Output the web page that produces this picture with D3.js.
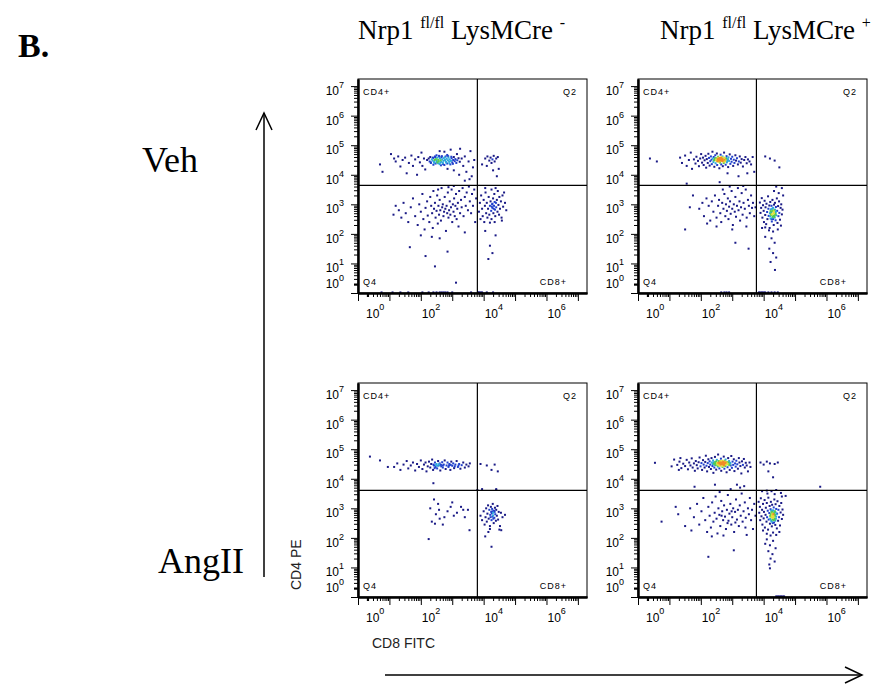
<!DOCTYPE html>
<html><head><meta charset="utf-8">
<script src="https://cdn.jsdelivr.net/npm/d3@7"></script>
<style>body{margin:0;background:#fff}svg{display:block}</style>
</head><body><svg id="c" width="882" height="698"></svg>
<script>
// ---------- data (log10 units: [CD8 FITC exponent, CD4 PE exponent]) ----------
const columnTitles = [["Nrp1 ", "fl/fl", " LysMCre ", "-"], ["Nrp1 ", "fl/fl", " LysMCre ", "+"]];
const rowLabels = ["Veh", "AngII"];
const quadrantNames = ["CD4+", "Q2", "Q4", "CD8+"];
const xAxisTitle = "CD8 FITC";
const yAxisTitle = "CD4 PE";
const xLabelExps = [0, 2, 4, 6];
const yLabelExps = [0, 1, 2, 3, 4, 5, 6, 7];
const gateX = [3.80, 3.77, 3.80, 3.77];
const gateY = [3.64, 3.64, 3.61, 3.61];

const vehCreNeg = [
[2.20,4.50],[2.25,4.55],[2.28,4.45],[2.30,4.60],[2.32,4.40],[2.35,4.52],[2.38,4.48],[2.40,4.57],[2.42,4.43],[2.44,4.50],[2.45,4.62],[2.47,4.38],[2.48,4.53],[2.50,4.47],[2.52,4.58],[2.53,4.42],[2.55,4.51],[2.57,4.46],[2.58,4.64],[2.60,4.36],[2.61,4.55],[2.63,4.49],[2.65,4.44],[2.66,4.59],[2.68,4.52],[2.70,4.40],[2.72,4.47],[2.73,4.56],[2.75,4.33],[2.77,4.50],[2.79,4.62],[2.80,4.44],[2.82,4.54],[2.84,4.38],[2.86,4.49],[2.88,4.58],[2.90,4.45],[2.92,4.52],[2.94,4.35],[2.96,4.47],[2.98,4.56],[3.00,4.42],[3.03,4.50],[3.05,4.60],[3.08,4.46],[3.10,4.53],[3.13,4.40],[3.16,4.49],[3.20,4.56],[3.24,4.44],
[2.32,4.42],[2.38,4.58],[2.43,4.40],[2.46,4.60],[2.51,4.43],[2.55,4.39],[2.59,4.61],[2.62,4.41],[2.67,4.63],[2.71,4.36],[2.76,4.59],[2.81,4.41],[2.87,4.63],[2.91,4.39],[2.97,4.61],[3.02,4.37],[2.50,4.66],[2.64,4.32],[2.84,4.67],[2.40,4.34],
[0.70,4.35],[0.78,4.10],[1.05,4.70],[1.15,4.55],[1.20,4.45],[1.28,4.62],[1.35,4.28],[1.42,4.50],[1.50,4.58],[1.55,4.05],[1.62,4.40],[1.70,4.65],[1.75,4.30],[1.82,4.52],[1.88,4.00],[1.92,4.60],[1.97,4.42],[2.02,4.75],[2.05,4.30],[2.10,4.55],[2.14,4.18],[2.60,4.80],[2.75,4.78],[2.85,4.20],[2.95,4.85],[3.05,4.15],[3.15,4.70],[3.22,4.00],[3.30,4.55],[3.35,4.30],[3.40,4.62],[3.45,4.10],[3.52,4.45],[3.58,4.80],[3.62,3.95],[3.66,4.25],[3.70,4.50],[3.55,3.85],[3.40,3.80],[3.25,4.88],
[4.05,4.55],[4.12,4.62],[4.18,4.48],[4.22,4.58],[4.28,4.52],[4.32,4.64],[4.35,4.45],[4.40,4.55],[4.45,4.60],[4.25,4.40],[4.10,4.30],[4.30,4.15],[4.48,4.20],[4.42,3.95],[3.95,4.35],
[1.13,2.65],[1.20,2.95],[1.30,2.80],[1.38,2.55],[1.45,3.05],[1.52,2.70],[1.60,2.40],[1.68,2.90],[1.75,3.20],[1.82,2.60],[1.90,2.30],[1.95,3.00],[2.00,2.75],[2.05,3.35],[2.08,2.50],[2.12,2.15],[2.15,2.88],[2.20,3.10],[2.22,2.62],[2.27,2.40],[2.30,3.25],[2.33,2.95],[2.36,2.70],[2.38,2.20],[2.40,3.45],[2.42,2.85],[2.45,3.05],[2.47,2.55],[2.50,2.78],[2.52,3.30],[2.54,2.35],[2.56,2.95],[2.58,2.65],[2.60,3.15],[2.62,2.80],[2.64,2.45],[2.66,3.55],[2.68,2.90],[2.70,3.00],[2.72,2.60],[2.74,2.75],[2.76,3.25],[2.78,2.85],[2.80,2.10],[2.82,2.95],[2.84,2.70],[2.86,3.40],[2.88,2.55],[2.90,2.80],[2.92,3.10],[2.94,2.65],[2.96,2.90],[2.98,3.50],[3.00,2.40],[3.02,3.00],[3.04,2.75],[3.06,3.20],[3.08,2.60],[3.10,2.95],[3.12,3.35],[3.14,2.50],[3.16,2.85],[3.18,3.05],[3.20,2.25],[3.22,3.45],[3.25,2.70],[3.28,3.15],[3.30,2.90],[3.33,3.55],[3.36,2.60],[3.40,3.25],[3.43,2.95],[3.46,3.40],[3.50,2.80],[3.53,3.60],[3.56,3.10],[3.60,2.70],[3.63,3.35],[3.66,2.95],[3.70,3.50],[3.73,2.40],[3.76,3.20],[2.88,3.58],[3.05,3.62],[2.55,3.50],[2.35,1.90],[2.60,1.85],
[1.65,1.55],[2.15,1.25],[2.45,0.90],[2.85,1.40],[3.12,0.35],[2.00,1.95],[3.40,2.05],
[3.85,2.75],[3.88,3.05],[3.90,2.50],[3.92,3.30],[3.95,2.85],[3.97,2.60],[4.00,3.15],[4.02,2.40],[4.04,2.95],[4.06,3.40],[4.08,2.70],[4.10,3.05],[4.12,2.55],[4.14,2.85],[4.16,3.25],[4.18,2.65],[4.20,2.95],[4.22,3.10],[4.24,2.78],[4.25,2.50],[4.27,3.00],[4.28,2.88],[4.30,3.20],[4.31,2.70],[4.33,2.95],[4.34,3.35],[4.36,2.82],[4.37,2.60],[4.39,3.05],[4.40,2.90],[4.42,3.15],[4.44,2.75],[4.45,3.45],[4.47,2.98],[4.49,2.65],[4.50,3.25],[4.52,2.85],[4.55,3.10],[4.57,2.55],[4.60,3.30],[4.62,2.92],[4.65,3.40],[4.68,3.05],[4.72,2.80],[4.58,2.45],[4.35,2.40],[4.20,2.38],[4.05,3.55],[4.38,3.55],[4.25,3.50],[4.28,3.02],[4.32,2.85],[4.26,2.92],[4.35,3.08],
[4.20,1.60],[4.28,1.35],[4.15,1.15],[4.38,1.95],[4.05,2.10],
[0.75,0.02],[1.10,0.02],[1.35,0.02],[1.60,0.02],[2.05,0.02],[2.25,0.02],[2.40,0.02],[2.50,0.02],[2.60,0.02],[2.66,0.02],[2.72,0.02],[2.78,0.02],[2.85,0.02],[3.00,0.02],[3.60,0.02],[3.82,0.02],[3.86,0.02],[3.90,0.02],[3.95,0.02],[4.10,0.02],[4.30,0.02]
];

const vehCrePos = [
[1.78,4.52],[1.83,4.38],[1.86,4.61],[1.91,4.47],[1.94,4.29],[1.98,4.55],[2.01,4.70],[2.04,4.41],[2.07,4.58],[2.09,4.33],[2.12,4.49],[2.15,4.64],[2.17,4.24],[2.19,4.53],[2.22,4.40],[2.24,4.71],[2.26,4.57],[2.28,4.31],[2.30,4.46],[2.32,4.62],[2.34,4.51],[2.35,4.36],[2.37,4.78],[2.38,4.55],[2.40,4.43],[2.41,4.60],[2.43,4.27],[2.44,4.50],[2.46,4.66],[2.47,4.39],[2.48,4.56],[2.50,4.47],[2.51,4.72],[2.52,4.33],[2.54,4.53],[2.55,4.61],[2.56,4.44],[2.58,4.50],[2.59,4.22],[2.60,4.57],[2.61,4.41],[2.63,4.68],[2.64,4.49],[2.65,4.35],[2.66,4.55],[2.68,4.46],[2.69,4.62],[2.70,4.29],[2.72,4.52],[2.73,4.40],[2.74,4.75],[2.76,4.58],[2.77,4.45],[2.79,4.34],[2.80,4.54],[2.82,4.63],[2.83,4.42],[2.85,4.50],[2.87,4.26],[2.88,4.59],[2.90,4.47],[2.92,4.69],[2.94,4.37],[2.96,4.54],[2.98,4.44],[3.00,4.61],[3.03,4.30],[3.05,4.51],[3.07,4.40],[3.10,4.66],[3.12,4.48],[3.15,4.56],[3.18,4.35],[3.21,4.45],[3.24,4.62],[3.27,4.41],[3.30,4.53],[3.34,4.28],[3.38,4.50],[3.42,4.60],[3.46,4.39],[3.50,4.52],[3.55,4.45],
[2.42,4.49],[2.45,4.55],[2.49,4.52],[2.53,4.46],[2.57,4.54],[2.59,4.48],[2.62,4.52],[2.64,4.57],[2.67,4.50],[2.70,4.48],[2.71,4.56],[2.75,4.51],[2.78,4.49],[2.81,4.57],[2.84,4.46],[2.60,4.45],[2.66,4.60],[2.55,4.58],[2.73,4.44],[2.50,4.50],[2.62,4.49],[2.68,4.53],[2.57,4.51],[2.86,4.53],
[0.38,4.55],[0.60,4.45],[1.34,4.58],[1.40,4.40],[1.50,4.65],[1.55,4.30],[1.62,4.50],[1.68,4.75],[1.72,4.20],[3.60,4.35],[3.65,4.60],[3.70,4.10],[3.48,4.05],[3.20,3.95],[2.85,4.05],[2.60,3.75],[1.55,3.70],[4.20,4.55],[4.35,4.48],[4.50,4.25],[4.05,4.62],
[1.95,2.85],[2.05,3.05],[2.10,2.60],[2.18,3.20],[2.25,2.95],[2.30,2.45],[2.35,3.10],[2.40,2.75],[2.45,3.30],[2.50,2.55],[2.55,2.95],[2.58,3.15],[2.62,2.70],[2.65,2.40],[2.68,3.05],[2.72,2.85],[2.75,3.35],[2.78,2.60],[2.80,3.00],[2.83,2.78],[2.86,3.20],[2.88,2.50],[2.90,2.92],[2.93,3.10],[2.95,2.68],[2.98,3.45],[3.00,2.85],[3.02,2.30],[3.05,3.00],[3.08,2.75],[3.10,3.25],[3.12,2.58],[3.15,2.95],[3.18,3.55],[3.20,2.80],[3.23,3.10],[3.25,2.45],[3.28,2.90],[3.30,3.38],[3.33,2.65],[3.36,3.05],[3.40,2.85],[3.43,3.50],[3.46,2.55],[3.50,3.15],[3.53,2.95],[3.56,2.70],[3.60,3.30],[3.63,2.88],[3.66,3.05],[3.70,2.60],[3.74,2.90],[2.92,3.60],[3.35,3.62],[2.70,3.50],[2.20,2.35],[2.50,2.25],[3.00,2.15],[3.45,2.25],[1.50,2.15],[1.75,3.30],[1.65,2.90],[3.10,1.70],[3.52,1.50],
[3.88,3.06],[3.90,2.71],[3.92,2.88],[3.94,3.21],[3.96,2.55],[3.98,2.97],[4.00,2.78],[4.01,2.40],[4.03,3.12],[4.05,2.64],[4.06,2.90],[4.08,2.33],[4.09,3.02],[4.11,2.74],[4.12,2.50],[4.14,3.27],[4.15,2.85],[4.16,2.61],[4.18,2.96],[4.19,2.20],[4.20,2.70],[4.21,3.08],[4.22,2.52],[4.23,2.83],[4.24,2.64],[4.25,2.95],[4.26,2.42],[4.27,2.76],[4.28,3.15],[4.29,2.58],[4.30,2.88],[4.31,2.69],[4.32,2.30],[4.33,2.99],[4.34,2.80],[4.35,2.55],[4.36,3.05],[4.37,2.73],[4.38,2.46],[4.39,2.91],[4.40,2.63],[4.42,3.20],[4.43,2.78],[4.44,2.37],[4.46,2.94],[4.47,2.60],[4.49,3.10],[4.50,2.71],[4.52,2.48],[4.54,2.88],[4.56,3.00],[4.58,2.66],[4.60,2.82],[4.62,3.30],[4.55,2.28],[4.45,2.15],[4.30,2.08],[4.17,2.12],[4.05,2.22],[4.48,3.38],[4.33,3.45],[4.58,3.55],[4.40,3.60],
[4.21,2.60],[4.24,2.74],[4.26,2.66],[4.28,2.55],[4.29,2.79],[4.31,2.61],[4.33,2.70],[4.35,2.64],[4.36,2.82],[4.38,2.68],[4.25,2.50],[4.30,2.50],[4.34,2.58],[4.27,2.85],[4.22,2.77],[4.39,2.75],[4.32,2.76],[4.23,2.68],
[4.25,1.85],[4.35,1.70],[4.18,1.50],[4.30,1.35],[4.40,1.20],[4.22,1.05],[4.36,0.78],[4.05,1.90],[3.95,2.20],
[2.65,0.02],[2.75,0.02],[2.82,0.02],[2.90,0.02],[3.85,0.02],[3.90,0.02],[3.95,0.02],[4.00,0.02],[4.05,0.02],[4.15,0.02],[4.25,0.02],[4.35,0.02],[4.45,0.02]
];

const angCreNeg = [
[1.15,4.40],[1.25,4.52],[1.35,4.30],[1.45,4.48],[1.55,4.60],[1.60,4.35],[1.68,4.45],[1.75,4.55],[1.82,4.28],[1.88,4.50],[1.94,4.40],[2.00,4.62],[2.05,4.33],[2.10,4.48],[2.15,4.55],[2.18,4.25],[2.22,4.42],[2.26,4.58],[2.30,4.38],[2.33,4.50],[2.36,4.65],[2.39,4.30],[2.42,4.45],[2.45,4.55],[2.47,4.40],[2.50,4.50],[2.52,4.35],[2.55,4.60],[2.57,4.45],[2.60,4.52],[2.62,4.28],[2.65,4.42],[2.68,4.56],[2.70,4.38],[2.73,4.48],[2.76,4.62],[2.79,4.33],[2.82,4.45],[2.85,4.55],[2.88,4.40],[2.91,4.50],[2.94,4.30],[2.97,4.58],[3.00,4.44],[3.03,4.52],[3.06,4.36],[3.10,4.48],[3.14,4.60],[3.18,4.40],[3.22,4.50],[3.26,4.34],[3.30,4.46],[3.35,4.55],[3.40,4.38],[3.45,4.48],[3.52,4.42],[3.56,4.52],[2.40,4.48],[2.48,4.46],[2.54,4.44],[2.58,4.49],[2.64,4.47],[2.44,4.36],[2.70,4.45],[2.90,4.45],[3.08,4.42],[2.95,4.47],[3.20,4.45],
[0.38,4.75],[0.70,4.62],[0.95,4.40],[2.40,3.85],[3.90,4.50],[4.10,4.45],[4.25,4.30],[4.35,4.48],[4.45,4.25],[3.95,3.65],[4.40,3.65],
[2.30,3.00],[2.42,3.30],[2.55,3.15],[2.58,2.95],[2.35,2.55],[2.45,2.48],[2.60,2.65],[2.75,2.70],[2.85,2.90],[2.95,3.05],[3.05,2.75],[3.15,2.85],[3.28,3.05],[3.35,2.95],[3.50,2.95],[3.55,2.26],[3.40,2.70],[2.70,2.45],[3.00,3.20],[2.25,1.96],[2.48,2.80],
[3.90,2.75],[3.95,2.60],[4.00,2.90],[4.03,2.45],[4.06,2.70],[4.08,3.00],[4.10,2.55],[4.12,2.82],[4.14,3.10],[4.16,2.65],[4.18,2.95],[4.20,2.40],[4.21,2.78],[4.23,3.05],[4.24,2.88],[4.25,2.60],[4.27,2.98],[4.28,2.72],[4.29,3.15],[4.30,2.85],[4.32,2.50],[4.33,2.92],[4.34,2.68],[4.36,3.02],[4.37,2.80],[4.39,2.58],[4.40,2.95],[4.42,2.75],[4.44,3.08],[4.46,2.62],[4.48,2.88],[4.52,2.40],[4.55,2.85],[4.60,2.70],[4.68,2.78],[4.50,2.28],[4.56,2.26],[4.15,2.20],[4.05,2.05],[4.25,1.70],[4.20,2.30],[4.26,2.83],[4.30,2.76],[4.22,2.70],[4.35,2.88],[4.28,2.90],[4.31,2.65],[3.80,3.62],[4.40,3.62]
];

const angCrePos = [
[1.25,4.47],[1.32,4.58],[1.38,4.36],[1.44,4.51],[1.50,4.43],[1.55,4.64],[1.59,4.32],[1.63,4.55],[1.67,4.45],[1.71,4.69],[1.74,4.38],[1.78,4.52],[1.81,4.27],[1.84,4.60],[1.87,4.46],[1.90,4.35],[1.93,4.56],[1.96,4.72],[1.99,4.42],[2.02,4.53],[2.04,4.30],[2.07,4.63],[2.09,4.48],[2.12,4.38],[2.14,4.57],[2.16,4.78],[2.18,4.44],[2.20,4.25],[2.22,4.53],[2.24,4.66],[2.26,4.40],[2.28,4.59],[2.30,4.48],[2.32,4.33],[2.34,4.70],[2.35,4.55],[2.37,4.43],[2.39,4.62],[2.40,4.20],[2.42,4.51],[2.43,4.38],[2.45,4.74],[2.46,4.57],[2.48,4.46],[2.49,4.31],[2.51,4.64],[2.52,4.53],[2.54,4.41],[2.55,4.82],[2.57,4.49],[2.58,4.60],[2.59,4.35],[2.61,4.55],[2.62,4.44],[2.64,4.68],[2.65,4.27],[2.66,4.52],[2.68,4.61],[2.69,4.40],[2.71,4.56],[2.72,4.47],[2.73,4.75],[2.75,4.34],[2.76,4.58],[2.78,4.43],[2.79,4.65],[2.81,4.51],[2.82,4.22],[2.84,4.57],[2.85,4.39],[2.87,4.70],[2.88,4.48],[2.90,4.60],[2.92,4.30],[2.93,4.54],[2.95,4.45],[2.97,4.77],[2.99,4.37],[3.01,4.58],[3.03,4.47],[3.05,4.66],[3.07,4.26],[3.09,4.52],[3.11,4.41],[3.13,4.61],[3.16,4.49],[3.18,4.34],[3.21,4.70],[3.23,4.55],[3.26,4.43],[3.29,4.18],[3.31,4.59],[3.34,4.47],[3.37,4.67],[3.40,4.38],[3.43,4.54],[3.46,4.45],
[2.38,4.50],[2.41,4.56],[2.44,4.47],[2.47,4.53],[2.50,4.59],[2.53,4.48],[2.56,4.54],[2.58,4.45],[2.60,4.51],[2.63,4.57],[2.65,4.48],[2.67,4.55],[2.70,4.50],[2.72,4.58],[2.74,4.46],[2.77,4.53],[2.80,4.48],[2.82,4.56],[2.85,4.50],[2.88,4.54],[2.91,4.47],[2.94,4.52],[2.62,4.60],[2.70,4.43],[2.76,4.61],[2.55,4.44],[2.68,4.52],[2.79,4.55],[2.64,4.50],[2.73,4.49],
[0.54,4.54],[1.07,4.42],[1.15,4.65],[1.30,4.30],[1.35,4.70],[3.55,4.55],[3.50,4.25],[3.58,4.40],[3.90,4.55],[4.00,4.48],[4.10,4.58],[4.20,4.52],[4.35,4.50],[4.45,4.55],[4.15,4.25],[4.30,4.05],[1.80,3.73],[2.45,3.80],[3.38,3.75],[5.80,3.73],
[1.66,3.00],[1.78,2.70],[1.88,3.15],[1.95,2.45],[2.02,2.90],[2.08,3.35],[2.14,2.60],[2.20,2.20],[2.24,3.05],[2.28,2.75],[2.32,2.35],[2.36,3.20],[2.40,2.55],[2.44,2.85],[2.47,3.40],[2.50,2.65],[2.53,2.15],[2.56,3.00],[2.59,2.78],[2.62,2.40],[2.65,3.25],[2.68,2.90],[2.71,2.60],[2.74,3.10],[2.77,2.72],[2.80,2.30],[2.83,2.95],[2.86,3.45],[2.88,2.58],[2.91,2.82],[2.94,3.15],[2.97,2.45],[3.00,2.70],[3.03,3.00],[3.06,2.20],[3.09,2.88],[3.12,3.30],[3.15,2.62],[3.18,2.95],[3.21,2.40],[3.24,3.10],[3.27,2.75],[3.30,3.50],[3.33,2.55],[3.36,2.90],[3.40,3.20],[3.43,2.68],[3.46,2.10],[3.50,3.00],[3.53,2.80],[3.56,3.35],[3.60,2.60],[3.63,2.95],[3.66,2.30],[3.70,3.15],[3.74,2.75],[2.60,3.55],[2.95,3.65],[3.25,3.70],[3.15,3.80],[2.72,2.08],[2.35,2.05],[3.42,2.35],[2.85,2.50],[2.98,2.90],[3.10,2.52],[2.66,2.75],
[0.75,2.55],[1.28,2.80],[1.20,3.05],[2.24,1.36],[3.05,1.58],[1.50,2.40],[1.70,2.25],
[3.84,3.22],[3.86,2.85],[3.88,3.05],[3.89,2.60],[3.91,3.34],[3.93,2.73],[3.95,2.95],[3.96,2.45],[3.98,3.15],[4.00,2.66],[4.01,2.88],[4.03,3.28],[4.04,2.35],[4.06,2.78],[4.07,3.02],[4.09,2.55],[4.10,3.18],[4.11,2.70],[4.13,2.92],[4.14,2.28],[4.15,3.36],[4.16,2.62],[4.18,2.84],[4.19,3.08],[4.20,2.48],[4.21,2.75],[4.22,2.97],[4.23,3.22],[4.24,2.58],[4.25,2.86],[4.26,2.39],[4.27,3.12],[4.28,2.69],[4.29,2.93],[4.30,2.18],[4.31,2.80],[4.32,3.03],[4.33,2.52],[4.34,3.30],[4.35,2.74],[4.36,2.90],[4.37,2.44],[4.38,3.14],[4.39,2.65],[4.40,2.98],[4.42,2.32],[4.43,2.82],[4.44,3.24],[4.46,2.58],[4.47,2.95],[4.49,2.70],[4.50,3.08],[4.52,2.42],[4.54,2.86],[4.56,3.18],[4.58,2.64],[4.60,2.96],[4.62,2.78],[4.50,2.20],[4.40,2.10],[4.22,2.08],[4.10,2.14],[3.98,2.25],[4.58,3.40],[4.35,3.48],[4.12,3.50],
[4.21,2.64],[4.23,2.80],[4.25,2.70],[4.26,2.55],[4.27,2.88],[4.28,2.62],[4.29,2.76],[4.30,2.68],[4.31,2.92],[4.32,2.60],[4.33,2.84],[4.34,2.66],[4.36,2.78],[4.37,2.58],[4.38,2.86],[4.40,2.72],[4.24,2.92],[4.29,2.50],[4.35,2.62],[4.41,2.80],[4.26,2.76],[4.32,2.72],[4.22,2.72],[4.28,2.82],
[4.10,3.60],[4.25,3.58],[4.40,3.62],[4.55,3.52],[4.70,3.42],[3.95,3.58],
[4.10,1.95],[4.30,1.90],[4.20,1.75],[4.38,1.65],[4.15,1.55],[4.28,1.45],[4.22,1.30],[4.35,1.20],[4.18,1.10],[4.20,0.97],[4.05,1.80],
[4.40,0.02],[4.45,0.02],[4.50,0.02],[4.55,0.02],[4.60,0.02],[4.65,0.02]
];

const panelData = [vehCreNeg, vehCrePos, angCreNeg, angCrePos];

// ---------- layout ----------
const svg = d3.select("#c");
const W = 229, H = 214;
const origins = [[358, 79], [638, 79], [358, 383], [638, 383]];
const xMaxExp = 7.29, yMaxExp = 7.24;
const x = d3.scaleLog().domain([1, Math.pow(10, xMaxExp)]).range([0, W]);
const y = d3.scaleLog().domain([1, Math.pow(10, yMaxExp)]).range([H, 0]);
const densityColor = d3.scaleThreshold()
  .domain([6, 11, 15, 19, 23])
  .range(["#1a1a86", "#2040cc", "#2ea8dc", "#52cc52", "#e2e03c", "#f08a28"]);

function minorTicks(maxExp) {
  const out = [];
  for (let d = 0; d < 8; d++) for (let m = 2; m <= 9; m++) {
    const v = m * Math.pow(10, d);
    if (Math.log10(v) <= maxExp) out.push(v);
  }
  return out;
}
const majorXT = d3.range(0, 8).map(e => Math.pow(10, e));
const majorYT = d3.range(0, 8).map(e => Math.pow(10, e));

panelData.forEach((pts, i) => {
  const [ox, oy] = origins[i];
  const g = svg.append("g").attr("transform", `translate(${ox},${oy})`);
  const P = pts.map(d => ({px: x(Math.pow(10, d[0])), py: y(Math.pow(10, d[1]))}));
  P.forEach(p => {
    let n = 0;
    P.forEach(q => { const dx = p.px - q.px, dy = p.py - q.py; if (dx * dx + dy * dy < 16) n++; });
    p.n = n;
  });
  P.sort((a, b) => a.n - b.n);
  g.append("g").selectAll("rect").data(P).join("rect")
    .attr("x", d => d.px - 1).attr("y", d => d.py - 1)
    .attr("width", 2).attr("height", 2)
    .attr("fill", d => densityColor(d.n));
  g.append("rect").attr("width", W).attr("height", H).attr("fill", "none").attr("stroke", "#000").attr("stroke-width", 1);
  const gx = x(Math.pow(10, gateX[i])), gy = y(Math.pow(10, gateY[i]));
  g.append("line").attr("x1", gx).attr("x2", gx).attr("y1", 0).attr("y2", H).attr("stroke", "#000").attr("stroke-width", 1.2);
  g.append("line").attr("x1", 0).attr("x2", W).attr("y1", gy).attr("y2", gy).attr("stroke", "#000").attr("stroke-width", 1.2);
  const ax = g.append("g").attr("transform", `translate(0,${H})`);
  ax.call(d3.axisBottom(x).tickValues(minorTicks(xMaxExp)).tickSize(4).tickFormat("").tickSizeOuter(0));
  ax.append("g").call(d3.axisBottom(x).tickValues(majorXT).tickSize(8).tickFormat("").tickSizeOuter(0));
  const ay = g.append("g");
  ay.call(d3.axisLeft(y).tickValues(minorTicks(yMaxExp)).tickSize(4).tickFormat("").tickSizeOuter(0));
  ay.append("g").call(d3.axisLeft(y).tickValues(majorYT).tickSize(7).tickFormat("").tickSizeOuter(0));
  g.selectAll(".domain").attr("stroke", "#000").attr("stroke-width", 2);
  g.selectAll(".tick line").attr("stroke", "#000").attr("stroke-width", 1);
  ax.select("g").selectAll(".tick line").attr("stroke-width", 2.2);
  ay.select("g").selectAll(".tick line").attr("stroke-width", 2.2);
  xLabelExps.forEach(e => {
    const t = g.append("text").attr("x", x(Math.pow(10, e)) + (e === 0 ? 8 : 1)).attr("y", H + 25)
      .attr("font-family", "Liberation Sans, Arial, sans-serif").attr("font-size", 12).attr("fill", "#000");
    t.append("tspan").text("10");
    t.append("tspan").attr("font-size", 9).attr("dy", -8).text(e);
  });
  yLabelExps.forEach(e => {
    const ty = y(Math.pow(10, e)) + (e === 0 ? -5 : 9);
    const t = g.append("text").attr("x", -14).attr("y", ty).attr("text-anchor", "end")
      .attr("font-family", "Liberation Sans, Arial, sans-serif").attr("font-size", 12).attr("fill", "#000");
    t.append("tspan").text("10");
    t.append("tspan").attr("font-size", 9).attr("dy", -7).text(e);
  });
  const qpos = [[5, 16, "start"], [W - 10, 16, "end"], [5, H - 8, "start"], [W - 20, H - 8, "end"]];
  quadrantNames.forEach((q, k) => {
    g.append("text").attr("x", qpos[k][0]).attr("y", qpos[k][1]).attr("text-anchor", qpos[k][2])
      .attr("font-family", "Liberation Sans, Arial, sans-serif").attr("font-size", 9)
      .attr("letter-spacing", 1).attr("fill", "#000").text(q);
  });
});

const titleX = [358, 660];
columnTitles.forEach((parts, i) => {
  const t = svg.append("text").attr("x", titleX[i]).attr("y", 39)
    .attr("font-family", "Liberation Serif, Times New Roman, serif").attr("font-size", 27).attr("fill", "#000");
  t.append("tspan").text(parts[0]);
  t.append("tspan").attr("font-size", 16).attr("dy", -11).text(parts[1]);
  t.append("tspan").attr("dy", 11).text(parts[2]);
  t.append("tspan").attr("font-size", 16).attr("dy", -11).text(parts[3]);
});

svg.append("text").attr("x", 18).attr("y", 57).attr("font-family", "Liberation Serif, Times New Roman, serif")
  .attr("font-weight", "bold").attr("font-size", 34).text("B.");

const rowY = [172, 573];
const rowX = [142, 158];
rowLabels.forEach((r, i) => {
  svg.append("text").attr("x", rowX[i]).attr("y", rowY[i]).attr("font-family", "Liberation Serif, Times New Roman, serif")
    .attr("font-size", 36).text(r);
});

const arrow = svg.append("g").attr("stroke", "#000").attr("stroke-width", 1.5).attr("fill", "none");
arrow.append("line").attr("x1", 264).attr("y1", 577).attr("x2", 264).attr("y2", 113);
arrow.append("polyline").attr("points", "256,130 264,113 272,130");
arrow.append("line").attr("x1", 385).attr("y1", 675).attr("x2", 862).attr("y2", 675);
arrow.append("polyline").attr("points", "845,667 862,675 845,683");

svg.append("text").attr("x", 372).attr("y", 648).attr("font-family", "Liberation Sans, Arial, sans-serif")
  .attr("font-size", 14).attr("fill", "#222").text(xAxisTitle);
svg.append("text").attr("transform", "translate(301,590) rotate(-90)").attr("font-family", "Liberation Sans, Arial, sans-serif")
  .attr("font-size", 14).attr("fill", "#222").text(yAxisTitle);
</script>
</body></html>
